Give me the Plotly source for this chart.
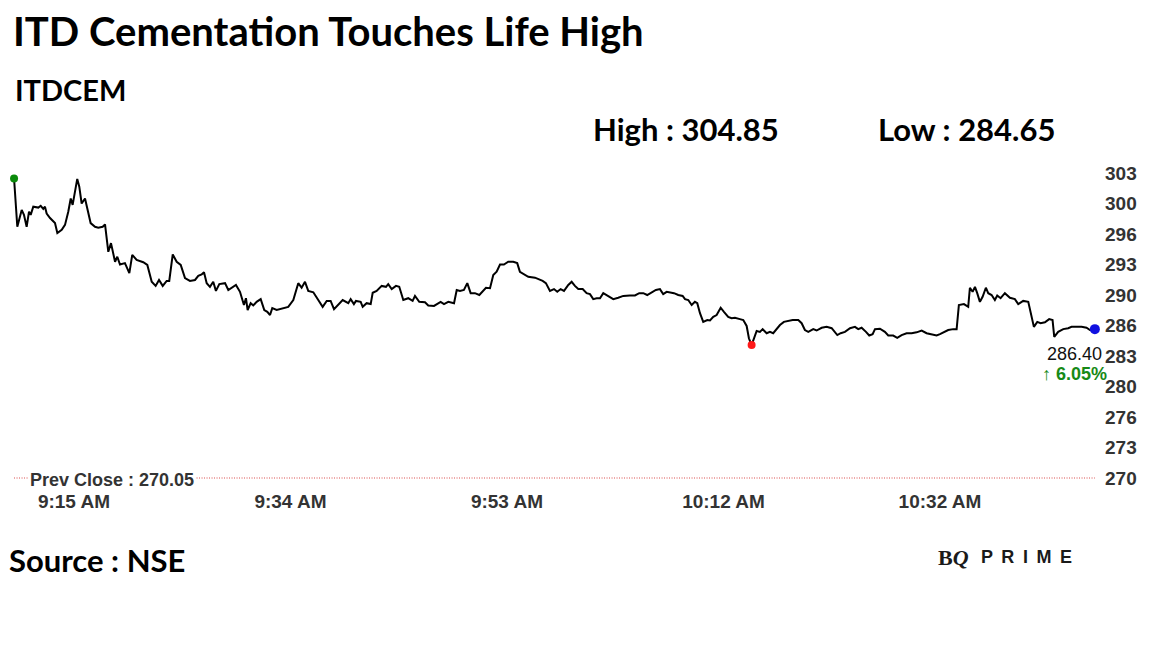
import plotly.graph_objects as go

# ---------------- data ----------------
minutes = [9.67, 9.96, 10.35, 10.55, 10.79, 11.0, 11.15, 11.38, 11.83, 12.04, 12.27, 12.42, 12.57, 12.87, 13.31, 13.52, 13.91, 14.2, 14.49, 14.71,
           14.88, 15.29, 15.47, 15.68, 15.98, 16.18, 16.48, 16.87, 17.16, 17.55, 17.76, 18.05, 18.29, 18.65, 18.85, 19.09, 19.53, 19.92, 20.18, 20.57,
           21.16, 21.52, 21.91, 22.26, 22.56, 22.89, 23.24, 23.47, 23.78, 24.13, 24.49, 24.87, 25.31, 25.76, 26.05, 26.35, 26.56, 26.8, 27.09, 27.38,
           27.62, 27.92, 28.43, 28.72, 29.4, 29.76, 30.11, 30.29, 30.44, 30.71, 30.94, 31.24, 31.6, 31.92, 32.19, 32.43, 32.63, 33.02, 33.61, 34.05,
           34.5, 34.94, 35.24, 35.54, 35.83, 36.28, 36.72, 37.11, 37.47, 37.82, 38.12, 38.5, 38.89, 39.39, 39.6, 39.89, 40.07, 40.49, 40.67, 41.02,
           41.38, 41.56, 41.91, 42.36, 42.74, 42.94, 43.25, 43.63, 43.92, 44.28, 44.72, 45.11, 45.32, 45.7, 46.21, 46.5, 47.01, 47.6, 47.9, 48.28,
           48.79, 49.03, 49.32, 49.67, 49.97, 50.27, 50.65, 51.04, 51.34, 51.63, 51.99, 52.28, 52.58, 52.88, 53.23, 53.61, 54.06, 54.41, 54.65, 55.01,
           55.39, 55.99, 56.28, 56.67, 56.96, 57.32, 57.68, 57.97, 58.27, 58.57, 58.95, 59.25, 59.54, 59.84, 60.23, 60.58, 60.88, 61.17, 61.47, 61.77,
           62.06, 62.36, 62.95, 63.39, 63.84, 64.43, 64.88, 65.26, 65.62, 65.97, 66.36, 66.74, 67.1, 67.39, 67.7, 67.99, 68.35, 68.73, 69.12, 69.33,
           69.62, 69.92, 70.21, 70.42, 70.66, 70.95, 71.31, 71.55, 71.84, 72.14, 72.5, 72.79, 73.17, 73.47, 73.77, 74.21, 74.51, 74.81, 75.01, 75.25,
           75.46, 75.7, 75.99, 76.23, 76.59, 76.88, 77.17, 77.41, 77.77, 78.12, 78.51, 78.9, 79.4, 79.7, 79.99, 80.29, 80.73, 81.03, 81.48, 81.92,
           82.37, 82.66, 82.87, 83.17, 83.55, 84.0, 84.44, 84.73, 85.03, 85.42, 85.71, 86.01, 86.22, 86.66, 87.1, 87.4, 87.84, 88.2, 88.59, 89.03,
           89.48, 89.92, 90.37, 90.81, 91.26, 91.7, 92.0, 92.29, 92.73, 93.18, 93.48, 93.68, 94.13, 94.51, 94.66, 94.9, 95.11, 95.31, 95.55, 95.79,
           96.08, 96.29, 96.59, 96.88, 97.09, 97.39, 97.77, 98.22, 98.66, 98.96, 99.4, 99.85, 100.15, 100.35, 100.65, 100.95, 101.33, 101.71, 102.01, 102.16,
           102.51, 102.96, 103.4, 103.7, 104.15, 104.59, 105.03, 105.33, 105.77]

prices = [302.95, 297.65, 299.5, 298.95, 297.65, 299.3, 298.95, 299.85, 299.75, 299.95, 299.6, 299.85, 299.1, 298.6, 298.05, 296.95, 297.3, 297.85, 299.3, 300.75,
          300.05, 302.9, 302.05, 300.2, 300.75, 299.65, 298.05, 297.65, 297.55, 297.65, 297.9, 294.9, 295.85, 293.8, 294.35, 293.5, 293.65, 292.55, 294.55, 294.0,
          293.75, 293.45, 291.6, 291.15, 291.8, 291.15, 291.7, 291.7, 294.6, 293.8, 293.45, 292.0, 291.7, 291.8, 292.25, 292.4, 292.65, 291.45, 291.05, 291.6,
          290.6, 291.35, 291.45, 290.7, 291.25, 290.5, 289.05, 289.8, 288.5, 289.25, 289.0, 289.4, 289.7, 288.5, 288.3, 287.95, 288.7, 288.5, 288.7, 288.85,
          289.6, 291.45, 290.95, 291.6, 290.6, 290.45, 289.6, 288.85, 289.5, 289.5, 288.6, 289.05, 289.6, 289.25, 289.7, 289.15, 289.5, 289.4, 288.85, 289.25,
          289.15, 290.4, 290.6, 291.15, 291.05, 291.35, 290.8, 291.15, 291.05, 289.6, 289.8, 289.5, 290.05, 289.4, 289.35, 289.0, 288.95, 289.4, 289.15, 289.4,
          289.25, 290.7, 290.6, 290.7, 291.45, 290.35, 290.35, 290.15, 290.6, 290.95, 290.9, 292.35, 292.7, 293.5, 293.5, 293.8, 293.8, 293.65, 292.7, 292.4,
          292.15, 292.05, 291.9, 291.7, 291.45, 290.6, 290.8, 290.5, 290.8, 290.6, 291.25, 291.6, 291.15, 290.8, 290.8, 290.35, 290.25, 289.7, 289.8, 289.8,
          290.35, 290.15, 289.7, 289.85, 290.05, 290.1, 290.1, 290.35, 290.35, 290.15, 290.45, 290.7, 290.8, 290.25, 290.5, 290.45, 290.35, 290.15, 290.05, 289.7,
          289.6, 289.05, 289.4, 289.25, 288.15, 287.2, 287.4, 287.35, 287.75, 287.95, 288.75, 288.3, 287.75, 287.6, 287.65, 287.5, 287.4, 286.75, 285.4, 284.65,
          285.4, 286.2, 286.1, 286.4, 285.95, 286.1, 285.95, 286.3, 286.85, 287.2, 287.3, 287.4, 287.4, 287.05, 286.3, 286.1, 286.4, 286.25, 286.55, 286.65,
          286.5, 286.1, 285.75, 285.95, 286.1, 286.5, 286.65, 286.4, 286.55, 286.1, 285.7, 285.85, 286.4, 286.45, 286.1, 285.7, 285.7, 285.45, 285.75, 285.95,
          285.95, 286.05, 286.25, 285.95, 285.85, 285.7, 285.85, 286.05, 286.3, 286.4, 286.4, 289.05, 289.15, 288.85, 290.95, 290.5, 291.05, 290.35, 289.4, 289.95,
          290.95, 290.35, 290.15, 289.6, 290.1, 289.8, 290.35, 289.85, 289.7, 289.15, 289.5, 289.4, 287.75, 286.65, 287.2, 287.05, 287.15, 287.5, 287.4, 285.55,
          286.1, 286.4, 286.5, 286.65, 286.65, 286.65, 286.55, 286.3, 286.4]

prev_close = 270.05
day_high = 304.85
day_low = 284.65
change_pct = 6.05

x_tick_vals = [15, 34.25, 53.5, 72.75, 92]
x_tick_text = ["9:15 AM", "9:34 AM", "9:53 AM", "10:12 AM", "10:32 AM"]
y_tick_vals = [270.05, 273.40, 276.75, 280.10, 283.45, 286.80, 290.15, 293.50, 296.85, 300.20, 303.55]
y_tick_text = ["270", "273", "276", "280", "283", "286", "290", "293", "296", "300", "303"]

title_text = "ITD Cementation Touches Life High"
symbol_text = "ITDCEM"
source_text = "Source : NSE"

# ---------------- layout geometry ----------------
# the page body has an 8px margin, so the figure is sized to fit the window
OFF = 8
W, H = 1152 - OFF, 648 - OFF
PLOT_L, PLOT_R, PLOT_T, PLOT_B = 10, 1098, 170, 482   # in window pixels
ML, MT = PLOT_L - OFF, PLOT_T - OFF
MR, MB = W - (PLOT_R - OFF), H - (PLOT_B - OFF)
PW, PH = PLOT_R - PLOT_L, PLOT_B - PLOT_T


def px2x(px):
    return (px - PLOT_L) / PW


def py2y(py):
    return (PLOT_B - py) / PH


low_i = prices.index(min(prices))

fig = go.Figure()

# previous close dotted line
fig.add_trace(go.Scatter(
    x=[minutes[0], minutes[-1]], y=[prev_close, prev_close],
    mode="lines", line=dict(color="#d94a4a", width=1.2, dash="1px,1.5px"),
    hoverinfo="skip", showlegend=False))

# price line
fig.add_trace(go.Scatter(
    x=minutes, y=prices, mode="lines",
    line=dict(color="#000000", width=2), showlegend=False, hoverinfo="skip"))

# markers
fig.add_trace(go.Scatter(x=[minutes[0]], y=[prices[0]], mode="markers",
                         marker=dict(color="#0a8a0a", size=8), showlegend=False, cliponaxis=False))
fig.add_trace(go.Scatter(x=[minutes[low_i]], y=[prices[low_i]], mode="markers",
                         marker=dict(color="#ff1a1a", size=8), showlegend=False, cliponaxis=False))
fig.add_trace(go.Scatter(x=[minutes[-1]], y=[prices[-1]], mode="markers",
                         marker=dict(color="#1010e0", size=10), showlegend=False, cliponaxis=False))

SANS = "Liberation Sans, Arial, sans-serif"

fig.update_layout(
    width=W, height=H,
    margin=dict(l=ML, r=MR, t=MT, b=MB),
    paper_bgcolor="white", plot_bgcolor="white",
    xaxis=dict(range=[9.31, 106.05], tickvals=x_tick_vals, ticktext=x_tick_text,
               showgrid=False, zeroline=False, showline=False, ticks="",
               ticklabelstandoff=6,
               tickfont=dict(family=SANS, size=19, color="#333333", weight="bold"),
               fixedrange=True),
    yaxis=dict(range=[269.61, 303.88], tickvals=y_tick_vals, ticktext=y_tick_text,
               side="right", showgrid=False, zeroline=False, showline=False, ticks="",
               ticklabelstandoff=6,
               tickfont=dict(family=SANS, size=19, color="#333333", weight="bold"),
               fixedrange=True),
    hovermode=False,
)

ann = []
ann.append(dict(text=title_text, x=px2x(11), y=py2y(31), xanchor="left", yanchor="middle",
                font=dict(family="Lato, sans-serif", size=40, color="#000000", weight="bold")))
ann.append(dict(text=symbol_text, x=px2x(13), y=py2y(89), xanchor="left", yanchor="middle",
                font=dict(family="Lato, sans-serif", size=29, color="#000000", weight="bold")))
ann.append(dict(text=f"High : {day_high:.2f}", x=px2x(591), y=py2y(129), xanchor="left", yanchor="middle",
                font=dict(family="Lato, sans-serif", size=31, color="#000000", weight="bold")))
ann.append(dict(text=f"Low : {day_low:.2f}", x=px2x(876), y=py2y(129), xanchor="left", yanchor="middle",
                font=dict(family="Lato, sans-serif", size=31, color="#000000", weight="bold")))
ann.append(dict(text=source_text, x=px2x(7), y=py2y(560), xanchor="left", yanchor="middle",
                font=dict(family="Lato, sans-serif", size=31, color="#000000", weight="bold")))
ann.append(dict(text=f"Prev Close : {prev_close:.2f}", x=px2x(28), y=py2y(480), xanchor="left", yanchor="middle",
                bgcolor="white", borderpad=1,
                font=dict(family=SANS, size=18, color="#333333", weight="bold")))
ann.append(dict(text=f"{prices[-1]:.2f}", x=px2x(1104), y=py2y(354), xanchor="right", yanchor="middle",
                font=dict(family=SANS, size=18, color="#111111")))
ann.append(dict(text=f"↑ {change_pct:.2f}%", x=px2x(1109), y=py2y(374), xanchor="right", yanchor="middle",
                font=dict(family=SANS, size=18, color="#178a17", weight="bold")))
# BQ PRIME wordmark
ann.append(dict(text="B<i>Q</i>", x=px2x(936), y=py2y(557), xanchor="left", yanchor="middle",
                font=dict(family="Liberation Serif, DejaVu Serif, serif", size=22, color="#1a1a1a", weight="bold")))
ann.append(dict(text="P \u2009R \u2009I \u2009M \u2009E", x=px2x(979), y=py2y(557), xanchor="left", yanchor="middle",
                font=dict(family=SANS, size=18, color="#1a1a1a", weight="bold")))

for a in ann:
    a.update(xref="paper", yref="paper", showarrow=False)
fig.update_layout(annotations=ann)

fig.write_html("out.html", config={"displayModeBar": False})
